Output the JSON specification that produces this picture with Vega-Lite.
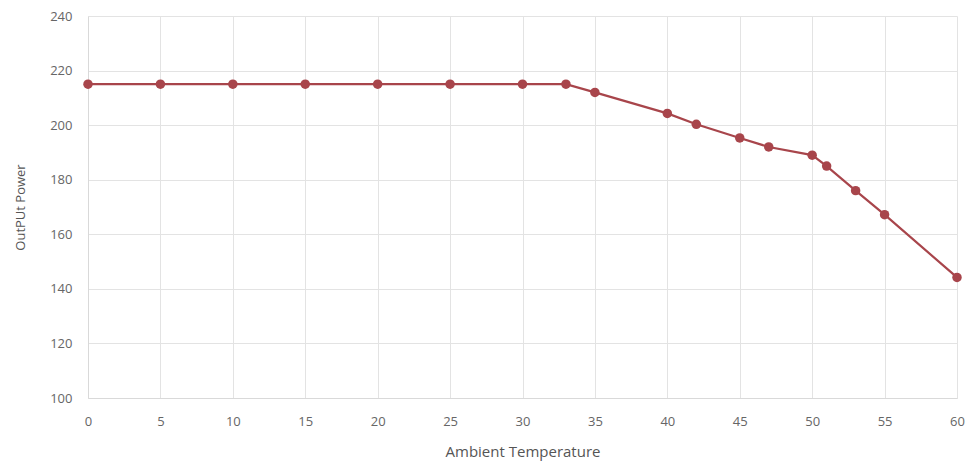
{
  "$schema": "https://vega.github.io/schema/vega-lite/v6.json",
  "autosize": {"type": "none"},
  "width": 869,
  "height": 382,
  "padding": {"left": 88, "top": 16, "right": 11, "bottom": 70},
  "background": "white",
  "config": {
    "view": {"stroke": null},
    "font": "Open Sans"
  },
  "data": {
    "values": [
      {"t": 0, "p": 215}, {"t": 5, "p": 215}, {"t": 10, "p": 215}, {"t": 15, "p": 215},
      {"t": 20, "p": 215}, {"t": 25, "p": 215}, {"t": 30, "p": 215}, {"t": 33, "p": 215},
      {"t": 35, "p": 212}, {"t": 40, "p": 204.3}, {"t": 42, "p": 200.3}, {"t": 45, "p": 195.3},
      {"t": 47, "p": 192}, {"t": 50, "p": 189}, {"t": 51, "p": 185}, {"t": 53, "p": 176},
      {"t": 55, "p": 167.2}, {"t": 60, "p": 144.2}
    ]
  },
  "encoding": {
    "x": {
      "field": "t", "type": "quantitative",
      "scale": {"domain": [0, 60], "nice": false, "zero": false},
      "axis": {
        "title": "Ambient Temperature", "values": [0,5,10,15,20,25,30,35,40,45,50,55,60],
        "grid": true, "gridColor": "#e3e3e3", "domain": true, "domainColor": "#d9d9d9",
        "ticks": false, "labelPadding": 17, "labelFontSize": 13, "labelColor": "#666666",
        "labelFlush": false, "labelBound": false,
        "titleFontSize": 15, "titleColor": "#555555", "titleFontWeight": "normal", "titlePadding": 16
      }
    },
    "y": {
      "field": "p", "type": "quantitative",
      "scale": {"domain": [100, 240], "nice": false, "zero": false},
      "axis": {
        "title": "OutPUt Power", "values": [100,120,140,160,180,200,220,240],
        "grid": true, "gridColor": "#e3e3e3", "domain": true, "domainColor": "#d9d9d9",
        "ticks": false, "labelPadding": 16, "labelFontSize": 13, "labelColor": "#666666",
        "labelFlush": false,
        "titleFontSize": 13, "titleColor": "#555555", "titleFontWeight": "normal", "titlePadding": 22
      }
    }
  },
  "layer": [
    {"mark": {"type": "line", "color": "#a8454b", "strokeWidth": 2.2}},
    {"mark": {"type": "point", "filled": true, "opacity": 1, "color": "#a8454b", "size": 90}}
  ]
}
